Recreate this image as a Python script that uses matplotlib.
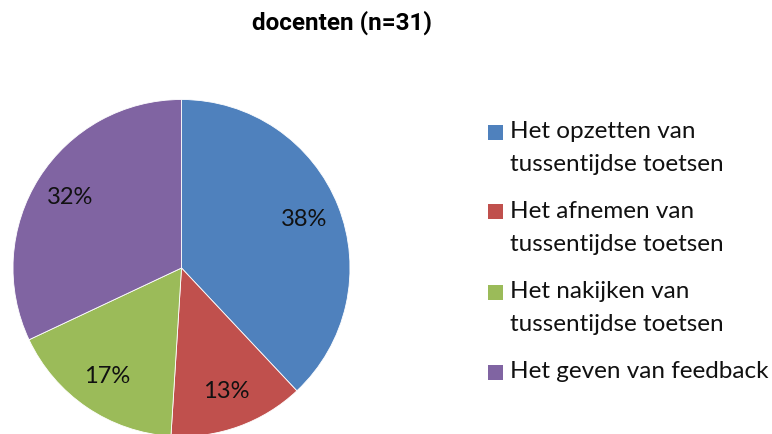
import matplotlib
matplotlib.use("Agg")
import matplotlib.pyplot as plt
from matplotlib.patches import Rectangle

# chart data
title = "docenten (n=31)"
labels = [
    "Het opzetten van\ntussentijdse toetsen",
    "Het afnemen van\ntussentijdse toetsen",
    "Het nakijken van\ntussentijdse toetsen",
    "Het geven van feedback",
]
shares = [38, 13, 17, 32]
colors = ["#4F81BD", "#C0504D", "#9BBB59", "#8064A2"]

W, H = 772, 434
fig = plt.figure(figsize=(W / 100, H / 100), dpi=100)

# pie placed in pixel coords: centre (181.5, 268), radius 168.5
cx, cy, r = 181.5, 268, 168.5
ax = fig.add_axes([(cx - r) / W, (H - cy - r) / H, 2 * r / W, 2 * r / H])
wedges, texts = ax.pie(
    shares,
    colors=colors,
    startangle=90,
    counterclock=False,
    labels=[f"{v}%" for v in shares],
    labeldistance=0.78,
    wedgeprops=dict(edgecolor="white", linewidth=0.6),
    textprops=dict(fontsize=17, family="Lato", color="#111111"),
)
for t in texts:
    t.set_ha("center")
    t.set_va("center")
ax.set_xlim(-1, 1)
ax.set_ylim(-1, 1)
ax.set_aspect("equal")
ax.axis("off")

fig.text(342 / W, 1 - 23 / H, title, ha="center", va="center",
         fontsize=17.5, fontweight="bold", family="Roboto")

# legend drawn by hand so the square lines up with the first text line
y0, step = 132, 80
for i, (lab, col) in enumerate(zip(labels, colors)):
    y = y0 + i * step
    fig.patches.append(Rectangle((488 / W, 1 - (y + 7.5) / H), 15 / W, 15 / H,
                                 transform=fig.transFigure, facecolor=col,
                                 edgecolor="none"))
    fig.text(510 / W, 1 - (y - 11.5) / H, lab, ha="left", va="top",
             fontsize=17.5, family="Lato", linespacing=1.74, color="#111111")

fig.savefig("out.png", dpi=100)
